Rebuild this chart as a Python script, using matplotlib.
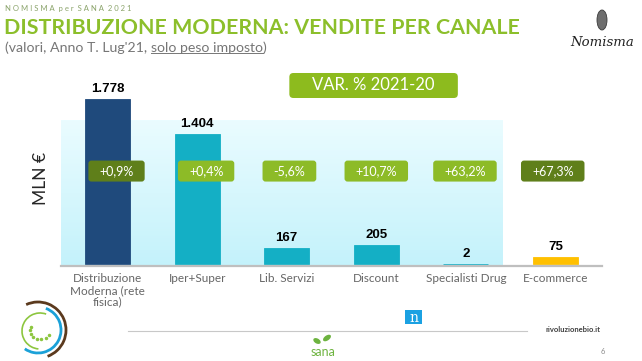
import matplotlib.pyplot as plt
import numpy as np
from matplotlib.patches import FancyBboxPatch, Rectangle, Arc, Ellipse
from matplotlib.colors import LinearSegmentedColormap

plt.rcParams['font.family'] = ['Lato', 'DejaVu Sans']

# data
categories = ["Distribuzione\nModerna (rete\nfisica)", "Iper+Super", "Lib. Servizi",
              "Discount", "Specialisti Drug", "E-commerce"]
values = [1778, 1404, 167, 205, 2, 75]
value_labels = ["1.778", "1.404", "167", "205", "2", "75"]
var_labels = ["+0,9%", "+0,4%", "-5,6%", "+10,7%", "+63,2%", "+67,3%"]

bar_colors = ['#1F4A7C', '#14AFC5', '#14AFC5', '#14AFC5', '#14AFC5', '#FFC000']
badge_colors = ['#5F7F1A', '#8DBB27', '#8DBB27', '#8DBB27', '#8DBB27', '#5F7F1A']
badge_shift = [0.1, 0.1, 0.03, 0.0, -0.01, -0.03]

W, H = 642, 361
fig = plt.figure(figsize=(W / 100, H / 100), dpi=100)

# background layer in pixel coordinates
deco = fig.add_axes([0, 0, 1, 1], zorder=0)
deco.set_xlim(0, W)
deco.set_ylim(H, 0)
deco.axis('off')


def fx(px):
    return px / W


def fy(py):
    return 1 - py / H


ax = fig.add_axes([fx(61), fy(266), fx(602) - fx(61), fy(60) - fy(266)], zorder=1)
ax.patch.set_alpha(0)

x = np.arange(len(values))

# light blue panel behind the chart
cmap = LinearSegmentedColormap.from_list('panel', ['#EAFCFF', '#C4F2FB'])
grad = np.linspace(0, 1, 100).reshape(-1, 1)
ax.imshow(grad, extent=(-0.52, 4.414, -22, 1552), cmap=cmap, aspect='auto',
          origin='upper', zorder=0)

ax.bar(x, values, width=0.5, color=bar_colors, edgecolor=bar_colors, linewidth=0.6, zorder=2)
for xi, v, lbl in zip(x, values, value_labels):
    ax.annotate(lbl, (xi, v), xytext=(0, 3), textcoords='offset points',
                ha='center', va='bottom', fontsize=9.5, fontweight='bold',
                family='Liberation Sans', color='black', zorder=4)

ax.set_xlim(-0.52, 5.52)
ax.set_ylim(-22, 2200)
ax.set_xticks(x, categories)
ax.tick_params(axis='x', length=0, pad=5, labelsize=8.5, labelcolor='#666666')
for t in ax.get_xticklabels():
    t.set_linespacing(1.1)
ax.set_yticks([])
for s in ['left', 'right', 'top']:
    ax.spines[s].set_visible(False)
ax.spines['bottom'].set_color('#BFBFBF')
ax.spines['bottom'].set_linewidth(1.6)

# variation badges
badge_texts = []
for xi, lbl, c, dx in zip(x, var_labels, badge_colors, badge_shift):
    t = ax.text(xi + dx, 1002, lbl, ha='center', va='center', fontsize=9,
                color='white', zorder=5)
    badge_texts.append((t, c))

# VAR box
var_t = ax.text(2.97, 1925, "VAR. % 2021-20", ha='center', va='center',
                fontsize=12, color='white', zorder=5)

fig.canvas.draw()
inv = ax.transData.inverted()
xu = 6.04 / (602 - 61)      # x units per pixel
yu = 2222 / 206             # y units per pixel
for t, c in badge_texts:
    bb = t.get_window_extent()
    (x0, _), (x1, _) = inv.transform([[bb.x0, 0], [bb.x1, 0]])
    cx = (x0 + x1) / 2
    w = (x1 - x0) + 22 * xu
    h = 21 * yu
    p = FancyBboxPatch((cx - w / 2, 1002 - h / 2), w, h,
                       boxstyle='round,pad=0,rounding_size=%f' % (3 * xu),
                       mutation_aspect=yu / xu, fc=c, ec='none', zorder=4)
    ax.add_patch(p)

bb = var_t.get_window_extent()
(x0, _), (x1, _) = inv.transform([[bb.x0, 0], [bb.x1, 0]])
w = (x1 - x0) + 46 * xu
h = 25 * yu
ax.add_patch(FancyBboxPatch(((x0 + x1) / 2 - w / 2, 1925 - h / 2), w, h,
                            boxstyle='round,pad=0,rounding_size=%f' % (4 * xu),
                            mutation_aspect=yu / xu, fc='#8DBB1E', ec='none', zorder=4))

# y label
deco.text(41, 178, "MLN €", rotation=90, ha='center', va='center', fontsize=12.5,
          color='#262626')

# header
deco.text(5, 8, "N O M I S M A  p e r  S A N A  2 0 2 1", ha='left', va='center',
          fontsize=5.5, color='#8AA36A')
deco.text(4, 28, "DISTRIBUZIONE MODERNA: VENDITE PER CANALE", ha='left', va='center',
          fontsize=15.4, fontweight='bold', color='#8CBF2B')
s1 = deco.text(5, 48, "(valori, Anno T. Lug'21, ", ha='left', va='center',
               fontsize=10.2, color='#767676')
fig.canvas.draw()
e1 = s1.get_window_extent()
s2 = deco.text(e1.x1, 48, "solo peso imposto", ha='left', va='center',
               fontsize=10.2, color='#767676')
fig.canvas.draw()
e2 = s2.get_window_extent()
deco.plot([e2.x0, e2.x1], [H - e2.y0 - 1, H - e2.y0 - 1], color='#767676', lw=0.7)
deco.text(e2.x1, 48, ")", ha='left', va='center', fontsize=10.2, color='#767676')

# Nomisma logo
deco.add_patch(Ellipse((602, 20), 10, 20, fc='#6E6E6E', ec='#3A3A3A', lw=0.6))
deco.text(602, 42, "Nomisma", ha='center', va='center', fontsize=9.5,
          family='DejaVu Serif', style='italic', color='#222222')

# footer
deco.plot([128, 527], [331, 331], color='#C8C8C8', lw=0.8)
deco.add_patch(Rectangle((405, 310), 17, 14, fc='#1BA1E2', ec='none'))
deco.text(413.5, 317.5, "n", ha='center', va='center', fontsize=10, color='white',
          family='DejaVu Serif')
deco.text(573, 330, "rivoluzionebio.it", ha='center', va='center', fontsize=5.5,
          fontweight='bold', color='#404040')
deco.text(603, 352, "6", ha='center', va='center', fontsize=5.5, color='#8C8C8C')

# sana logo
deco.add_patch(Ellipse((317, 341), 8, 5, angle=30, fc='#6DB33F', ec='none'))
deco.add_patch(Ellipse((327, 338), 9, 5, angle=-35, fc='#6DB33F', ec='none'))
deco.text(323, 352, "sana", ha='center', va='center', fontsize=9, color='#6DB33F')

# round logo bottom left
deco.add_patch(Arc((38, 330), 46, 46, theta1=-70, theta2=125, color='#1BA1D8', lw=2))
deco.add_patch(Arc((38, 330), 56, 56, theta1=-115, theta2=70, color='#5B3A1E', lw=2))
deco.add_patch(Arc((40, 331), 36, 36, theta1=95, theta2=290, color='#8DC63F', lw=1.2))
for ang in np.linspace(150, 330, 8):
    deco.plot(40 + 10 * np.cos(np.radians(ang)), 331 - 8 * np.sin(np.radians(ang)), 'o',
              ms=1.5, color='#8DC63F')

# faint watermark bottom right
deco.add_patch(Arc((585, 385), 160, 160, theta1=0, theta2=180, color='#F4E9B0', lw=3, alpha=0.6))
deco.add_patch(Arc((585, 385), 190, 190, theta1=0, theta2=170, color='#CDEFF7', lw=4, alpha=0.6))
deco.add_patch(Arc((585, 385), 215, 215, theta1=0, theta2=80, color='#E4E4E4', lw=5, alpha=0.6))

fig.savefig('out.png', dpi=100)
